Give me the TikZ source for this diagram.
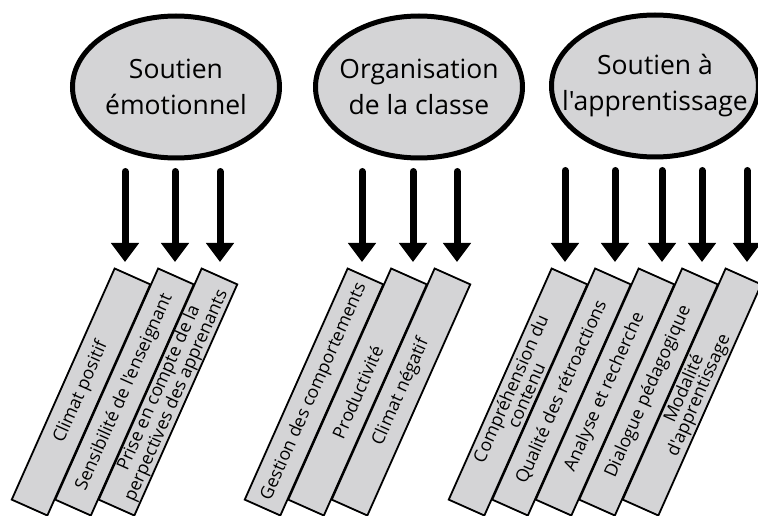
\documentclass[tikz,border=0pt]{standalone}
\usepackage{fontspec}
\setmainfont{Open Sans}[Ligatures=TeXOff]
\usetikzlibrary{shapes.geometric, arrows.meta}
\definecolor{fondgris}{RGB}{212,212,214}

\begin{document}
\begin{tikzpicture}[
    x=1pt, y=1pt,
    domainbox/.style={draw, ellipse, line width=5pt, fill=fondgris, minimum width=207pt, minimum height=142pt, inner sep=0pt},
    domaintext/.style={align=center, inner sep=0pt, font=\fontsize{26.5}{36}\selectfont},
    dimension/.style={draw, rectangle, line width=1.8pt, fill=fondgris, rotate=66, minimum width=253pt, minimum height=39pt, inner sep=1pt, align=center, font=\fontsize{17.8}{16}\selectfont},
    arr/.style={line width=7pt, line cap=round, -{Triangle[width=27pt, length=19pt]}, shorten <=11pt}
  ]

  % cadre
  \useasboundingbox (0, 0) rectangle (758, 515);

  % ── domaines ──
  \node[domainbox] (emo) at (176, 428) {};
  \node[domaintext] (emolbl) at (emo) {Soutien\\émotionnel};
  \node[domainbox] (org) at (419, 428) {};
  \node[domaintext] (orglbl) at (org) {Organisation\\de la classe};
  \node[domainbox] (app) at (655, 429) {};
  \node[domaintext] (applbl) at (app) {Soutien à\\l'apprentissage};

  % ── dimensions : soutien émotionnel ──
  \node[dimension] (climpos) at (81, 123) {Climat positif};
  \node[dimension] (sensib) at (124.5, 123) {Sensibilité de l'enseignant};
  \node[dimension] (persp) at (168, 123) {Prise en compte de la\\perpectives des apprenants};

  % ── dimensions : organisation de la classe ──
  \node[dimension] (gestion) at (314, 123) {Gestion des comportements};
  \node[dimension] (produc) at (357.5, 123) {Productivité};
  \node[dimension] (climneg) at (401, 123) {Climat négatif};

  % ── dimensions : soutien à l'apprentissage ──
  \node[dimension] (compr) at (518, 123) {Compréhension du\\contenu};
  \node[dimension] (retro) at (561.5, 123) {Qualité des rétroactions};
  \node[dimension] (analyse) at (605, 123) {Analyse et recherche};
  \node[dimension] (dialogue) at (648.5, 123) {Dialogue pédagogique};
  \node[dimension] (modal) at (692, 123) {Modalité\\d'apprentissage};

  % pointes des flèches
  \coordinate (p1) at (125, 253);
  \coordinate (p2) at (175, 253);
  \coordinate (p3) at (220, 253);
  \coordinate (p4) at (362, 253);
  \coordinate (p5) at (413, 253);
  \coordinate (p6) at (457, 253);
  \coordinate (p7) at (565, 253);
  \coordinate (p8) at (615, 253);
  \coordinate (p9) at (662, 253);
  \coordinate (p10) at (702, 253);
  \coordinate (p11) at (747, 253);

  % flèches
  \draw[arr] (emo.south -| p1) -- (p1);
  \draw[arr] (emo.south -| p2) -- (p2);
  \draw[arr] (emo.south -| p3) -- (p3);

  \draw[arr] (org.south -| p4) -- (p4);
  \draw[arr] (org.south -| p5) -- (p5);
  \draw[arr] (org.south -| p6) -- (p6);

  \draw[arr] (app.south -| p7) -- (p7);
  \draw[arr] (app.south -| p8) -- (p8);
  \draw[arr] (app.south -| p9) -- (p9);
  \draw[arr] (app.south -| p10) -- (p10);
  \draw[arr] (app.south -| p11) -- (p11);

\end{tikzpicture}
\end{document}
